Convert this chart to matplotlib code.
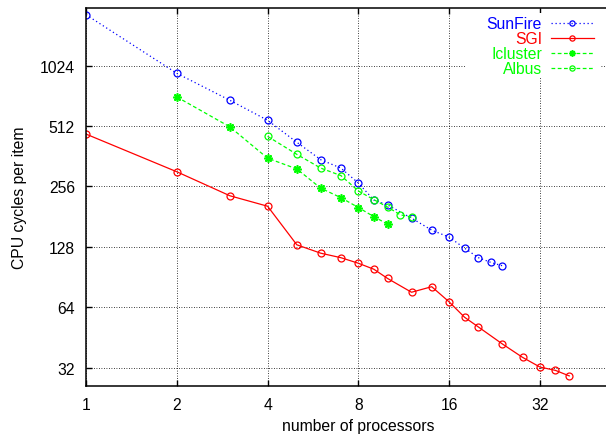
import matplotlib.pyplot as plt
from matplotlib.patches import Rectangle

plt.rcParams['font.family'] = ['Liberation Sans', 'DejaVu Sans']

# values (log2-log2 axes)
sunfire_procs = [1, 2, 3, 4, 5, 6, 7, 8, 9, 10, 12, 14, 16, 18, 20, 22, 24]
sunfire_cycles = [1838, 938, 688, 547, 425, 348, 316, 266, 219, 207, 178, 155, 143, 126, 113, 107, 103]

sgi_procs = [1, 2, 3, 4, 5, 6, 7, 8, 9, 10, 12, 14, 16, 18, 20, 24, 28, 32, 36, 40]
sgi_cycles = [467, 303, 230, 204, 131, 119, 113, 106, 99, 89, 76, 81, 68, 57, 51, 42, 36, 32.2, 31, 29.1]

icluster_procs = [2, 3, 4, 5, 6, 7, 8, 9, 10]
icluster_cycles = [715, 507, 354, 313, 251, 225, 201, 181, 166]

albus_procs = [4, 5, 6, 7, 8, 9, 10, 11, 12]
albus_cycles = [455, 370, 316, 290, 243, 220, 202, 185, 180]

x_ticks = [1, 2, 4, 8, 16, 32]
y_ticks = [32, 64, 128, 256, 512, 1024]

W, H = 606, 439
fig = plt.figure(figsize=(W / 100, H / 100), dpi=100)
fig.patch.set_facecolor('white')

# plot area in pixels: x=1 at 86, 90.8 px per doubling; y top 9, bottom 386.7
left, right = 86, 86 + 6 * 90.8
top, bottom = 9, 386.7
ax = fig.add_axes([left / W, 1 - bottom / H, (right - left) / W, (bottom - top) / H])

ax.set_xscale('log', base=2)
ax.set_yscale('log', base=2)
ax.set_xlim(1, 64)
ax.set_ylim(26.0, 1985)

green = '#00ff00'
fs = 11.3
ms = 5
ax.plot(sunfire_procs, sunfire_cycles, color='blue', linestyle=(0, (1, 2.2)), linewidth=0.9,
        marker='o', markersize=ms, markerfacecolor='none', markeredgewidth=0.9, label='SunFire')
ax.plot(sgi_procs, sgi_cycles, color='red', linestyle='-', linewidth=0.9,
        marker='o', markersize=ms, markerfacecolor='none', markeredgewidth=0.9, label='SGI')
ax.plot(icluster_procs, icluster_cycles, color=green, linestyle=(0, (3, 2)), linewidth=0.9,
        marker=(8, 2, 0), markersize=6, markeredgewidth=1.2, label='Icluster')
ax.plot(albus_procs, albus_cycles, color=green, linestyle=(0, (3, 2)), linewidth=0.9,
        marker='o', markersize=ms, markerfacecolor='none', markeredgewidth=0.9, label='Albus')

ax.set_xticks(x_ticks)
ax.set_xticklabels([str(v) for v in x_ticks])
ax.set_yticks(y_ticks)
ax.set_yticklabels([str(v) for v in y_ticks])
ax.minorticks_off()
ax.tick_params(direction='in', length=4, width=1, top=True, right=True,
               labelsize=fs, colors='black')
ax.tick_params(axis='x', pad=8)
ax.tick_params(axis='y', pad=8)
ax.grid(True, color='black', linestyle=(0, (1, 2)), linewidth=0.6)
for s in ax.spines.values():
    s.set_linewidth(1.1)

# white key box, as gnuplot clears the area behind the key
ax.add_patch(Rectangle((465 / W, 1 - 78 / H), (600 - 465) / W, (78 - 14) / H,
                       transform=fig.transFigure, facecolor='white', edgecolor='none',
                       zorder=1.6))

leg = ax.legend(loc='upper right', bbox_to_anchor=(594 / W, 1 - 17 / H),
                bbox_transform=fig.transFigure, frameon=False, markerfirst=False,
                labelcolor='linecolor', fontsize=fs, handlelength=2.75, markerscale=0.75,
                handletextpad=0.57, labelspacing=0.0, borderpad=0, borderaxespad=0)

ax.set_xlabel('number of processors', fontsize=fs, va='center')
ax.xaxis.set_label_coords(0.5, (bottom - 426.5) / (bottom - top))
ax.set_ylabel('CPU cycles per item', fontsize=fs, va='center')
ax.yaxis.set_label_coords((20 - left) / (right - left), 0.5)

plt.savefig('out.png', dpi=100, facecolor='white')
plt.close()
